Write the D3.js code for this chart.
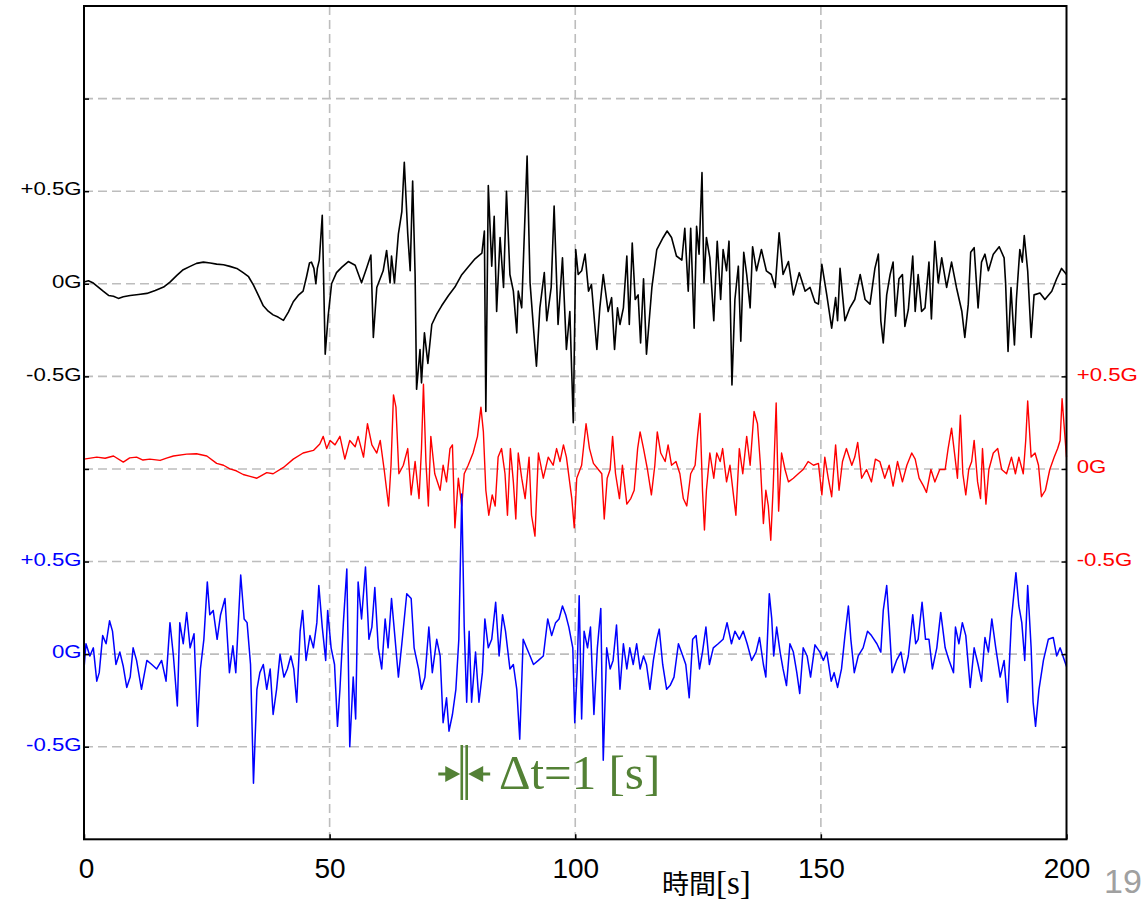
<!DOCTYPE html>
<html>
<head>
<meta charset="utf-8">
<script src="https://cdn.jsdelivr.net/npm/d3@7"></script>
<style>
  body { margin: 0; background: #fff; }
  svg { display: block; }
</style>
</head>
<body>
<div id="chart"></div>
<script>
// time [s], acceleration [G]
const blackWave = [[0,0.009],[0.9,0.016],[1.9,0.004],[2.9,-0.018],[3.9,-0.04],[5,-0.063],[6,-0.067],[7,-0.079],[8,-0.07],[9.4,-0.063],[11.1,-0.058],[12.8,-0.052],[14.5,-0.036],[16.2,-0.018],[17.5,0.009],[18.9,0.045],[20.2,0.076],[21.6,0.094],[22.9,0.11],[24.3,0.117],[25.7,0.112],[27,0.106],[28.4,0.103],[29.7,0.094],[31.1,0.083],[32.4,0.06],[33.5,0.038],[34.5,-0.007],[35.5,-0.063],[36.5,-0.119],[37.5,-0.148],[38.5,-0.168],[39.5,-0.18],[40.6,-0.198],[41.6,-0.153],[42.6,-0.097],[43.6,-0.063],[44.6,-0.04],[45.3,0.038],[45.9,0.112],[46.3,0.117],[46.8,0.083],[47.2,0],[47.5,0.083],[47.9,0.128],[48.5,0.37],[49.1,-0.38],[49.7,-0.175],[50.4,0],[51.4,0.06],[52.5,0.09],[53.8,0.12],[55.2,0.1],[56.5,0.005],[57.5,0.083],[58.4,0.155],[58.9,-0.29],[59.6,-0.02],[60.9,0.07],[61.6,0.18],[62.3,0.005],[62.6,0.15],[63.2,0.005],[64,0.27],[64.7,0.39],[65.2,0.656],[65.9,0.27],[66.4,0.07],[66.9,0.555],[67.4,0.05],[67.7,-0.57],[68.4,-0.355],[68.7,-0.535],[69.3,-0.265],[70,-0.43],[70.8,-0.22],[71.8,-0.164],[72.8,-0.119],[74.2,-0.063],[75.5,-0.018],[76.9,0.049],[78.2,0.09],[79.6,0.135],[81,0.166],[81.5,0.285],[81.8,-0.69],[82.3,0.53],[83,0.095],[83.5,0.365],[84,-0.15],[84.7,0.25],[85.4,-0.02],[86,0.5],[86.7,0.05],[87.4,-0.04],[88.1,-0.265],[88.4,-0.04],[89.1,-0.13],[89.8,0.39],[90.2,0.69],[90.8,0.005],[91.5,-0.24],[92.1,-0.445],[92.8,-0.13],[93.7,0.06],[94.2,-0.2],[95.1,-0.02],[95.7,0.42],[96.5,-0.22],[97.4,0.14],[98.2,-0.355],[98.9,-0.15],[99.6,-0.75],[100.1,0.185],[100.6,0.05],[101.3,0.07],[102,0.16],[102.7,-0.04],[103.3,-0.005],[104.4,-0.355],[105,-0.13],[105.7,0.05],[106.7,-0.15],[107.4,-0.075],[108,-0.355],[108.6,-0.13],[109.1,-0.22],[109.8,-0.13],[110.5,0.15],[111,-0.22],[111.6,0.22],[112.2,-0.085],[112.8,-0.06],[113.3,-0.32],[113.9,0.027],[114.5,-0.38],[115.6,-0.02],[116.6,0.185],[117.9,0.25],[118.7,0.285],[119.6,0.25],[120.6,0.15],[121.7,0.128],[122.3,0.3],[123,-0.04],[123.5,0.3],[124.2,-0.24],[124.7,0.31],[125.2,0.16],[125.8,0.6],[126.2,0.005],[126.7,0.25],[127.4,0.14],[128.2,-0.2],[128.9,0.23],[129.6,-0.085],[130.1,0.185],[130.8,0.07],[131.3,0.23],[131.9,-0.546],[132.5,-0.085],[133.2,0.095],[133.7,-0.31],[134.3,0.17],[134.9,0.05],[135.6,-0.13],[136.1,0.2],[136.9,0.07],[137.9,0.185],[138.9,0.07],[139.9,0.05],[140.7,-0.02],[141.5,0.275],[142.3,0.05],[143.4,0.12],[144.4,-0.06],[145.6,0.06],[146.8,-0.04],[147.8,-0.02],[148.8,-0.1],[149.5,-0.11],[150.2,0.105],[151.2,-0.06],[152.2,-0.24],[153,-0.075],[153.4,-0.2],[153.9,0.083],[154.9,-0.2],[155.9,-0.13],[156.9,-0.085],[158,0.05],[159,-0.085],[160,-0.11],[161,0.083],[161.7,0.16],[162.2,-0.2],[162.7,-0.32],[163.4,-0.06],[164.1,0.05],[164.7,0.117],[165.2,-0.175],[165.9,0.027],[166.6,0.05],[167.1,-0.23],[167.8,-0.14],[168.7,0.15],[169.2,-0.15],[169.8,0.05],[170.5,-0.15],[171.2,-0.13],[172,0.117],[172.5,-0.19],[173.2,0.23],[173.9,0.005],[174.6,0.14],[175.6,-0.02],[176.6,0.117],[177.6,-0.02],[178.7,-0.15],[179.3,-0.29],[180,-0.11],[180.5,0.17],[181.2,0.195],[182,-0.13],[182.7,0.117],[183.4,0.16],[184.1,0.07],[185.1,0.16],[186.3,0.2],[187.3,0.14],[187.6,0.005],[188.1,-0.366],[188.7,-0.02],[189.4,-0.33],[189.8,-0.085],[190.5,0.185],[191,0.117],[191.4,0.26],[192.1,0.07],[192.8,-0.29],[193.4,-0.06],[194.6,-0.05],[195.6,-0.085],[197,-0.04],[198,0.027],[199,0.083],[200,0.05]];

const redWave = [[0,0.053],[2.6,0.064],[4.3,0.058],[6,0.07],[8,0.037],[9.3,0.06],[10.7,0.064],[12,0.048],[13.4,0.053],[15.5,0.046],[16.8,0.058],[18.2,0.07],[20.9,0.08],[22.9,0.082],[25,0.07],[27,0.03],[28.4,0.02],[29.7,0],[31,-0.01],[32.4,-0.03],[33.8,-0.04],[35.2,-0.05],[37.2,-0.02],[38.5,-0.026],[40.6,0.008],[42.6,0.053],[44.6,0.086],[46.7,0.1],[48,0.135],[48.7,0.176],[49.4,0.11],[50.1,0.154],[51.1,0.13],[52.1,0.176],[53.1,0.053],[54.1,0.154],[55.2,0.12],[55.8,0.176],[56.9,0.064],[57.7,0.244],[58.6,0.13],[59.6,0.086],[60.3,0.154],[61.1,-0.003],[62,-0.2],[62.5,0.02],[63,0.4],[63.5,0.334],[64.1,-0.026],[65,0.02],[65.9,0.11],[66.6,-0.14],[67.4,0.04],[68.2,-0.16],[68.7,0.11],[69.1,0.457],[69.6,0.04],[70.1,-0.2],[70.6,0.176],[71.4,-0.026],[72.5,-0.115],[73.1,0.02],[73.8,-0.07],[74.5,0.11],[75,0.13],[75.5,-0.318],[76.2,-0.05],[76.9,-0.2],[77.4,-0.026],[78.2,0.02],[79.2,0.086],[80.1,0.176],[80.8,0.334],[81.3,0.2],[81.8,-0.115],[82.4,-0.25],[83.1,-0.14],[83.7,-0.2],[84.3,0.064],[85,0.11],[85.7,-0.026],[86.2,-0.25],[86.8,0.11],[87.4,-0.07],[87.9,-0.27],[88.4,0.086],[89.1,-0.05],[89.8,-0.16],[90.6,0.064],[91.1,-0.25],[91.8,-0.363],[92.5,0.086],[93.5,-0.05],[94.5,0.064],[95.5,0.02],[96.2,0.11],[96.9,0.04],[97.6,0.13],[98.2,0.064],[99.3,-0.16],[99.8,-0.318],[100.3,-0.05],[101.3,0.02],[102.2,0.244],[102.9,0.11],[103.7,0.03],[104.7,-0.003],[105.4,-0.026],[105.9,-0.27],[106.5,-0.05],[107.1,-0.003],[107.6,0.176],[108.2,-0.026],[109,-0.16],[109.6,0.02],[110.5,-0.19],[111.3,-0.16],[112,-0.115],[112.7,0.11],[113.2,0.2],[113.9,0.11],[114.7,-0.003],[115.5,-0.14],[116.2,0.02],[116.7,0.2],[117.4,0.086],[118.3,0.04],[118.9,0.13],[119.6,0.02],[120.5,0.04],[121.3,-0.026],[122,-0.16],[122.7,-0.2],[123.5,-0.026],[124.4,0.02],[124.9,0.176],[125.4,0.3],[125.9,-0.115],[126.3,-0.33],[126.7,-0.115],[127.4,0.086],[128.2,-0.05],[128.8,0.086],[129.5,0.04],[130,0.11],[130.8,-0.07],[131.5,0.02],[132.2,-0.14],[132.7,-0.25],[133.4,0.11],[134.1,-0.026],[134.9,0.176],[135.6,0.02],[136.4,0.31],[137.1,0.244],[137.7,0.02],[138.3,-0.295],[138.8,-0.115],[139.3,-0.2],[139.8,-0.385],[140.3,-0.093],[140.9,0.356],[141.4,-0.228],[142,0.086],[142.7,-0.003],[143.4,-0.07],[144.4,-0.05],[145.4,-0.026],[146.4,-0.003],[147.4,0.04],[148.5,0.02],[149.5,0.03],[150.2,-0.14],[150.8,0.064],[151.5,-0.05],[152.2,-0.15],[153,0.13],[153.7,-0.115],[154.4,0.04],[155.2,0.11],[156.3,0.02],[156.9,0.064],[157.5,0.143],[158.3,-0.05],[159.3,-0.003],[160.3,-0.07],[161.1,0.053],[162,0.04],[163,-0.05],[163.9,0.02],[164.7,-0.093],[165.6,0.04],[166.6,-0.07],[167.5,0.02],[168.5,0.086],[169.2,0.053],[170,-0.05],[170.9,-0.093],[171.5,-0.127],[172.4,-0.003],[173.2,-0.07],[174.2,-0.003],[175.3,-0.003],[175.9,0.11],[176.6,0.22],[177.3,0.064],[177.8,-0.05],[178.4,0.29],[178.9,-0.026],[179.5,-0.14],[180.1,-0.003],[180.7,0.04],[181.2,0.154],[181.9,-0.07],[182.5,-0.16],[182.9,0.11],[183.6,-0.19],[184.2,-0.003],[185.1,0.086],[186,0.11],[186.8,-0.003],[187.8,-0.026],[188.8,0.064],[189.6,-0.026],[190.3,0.064],[191.2,-0.026],[191.7,0.154],[192.1,0.367],[192.8,0.064],[193.6,0.086],[194.3,0.02],[194.9,-0.15],[195.7,-0.115],[196.6,-0.003],[197.5,0.064],[198.2,0.11],[198.7,0.154],[199.1,0.38],[200,0.064]];

const blueWave = [[0,-0.08],[0.4,0.056],[1.2,-0.01],[1.9,0.034],[2.6,-0.146],[3.1,-0.1],[3.8,0.1],[4.5,0.056],[5.2,0.18],[5.8,0.124],[6.5,-0.056],[7.3,0.011],[8,-0.067],[8.7,-0.18],[9.4,-0.124],[10,0.034],[10.7,-0.034],[11.7,-0.19],[12.8,-0.034],[13.8,-0.056],[14.8,-0.08],[15.8,-0.034],[16.7,-0.146],[17.5,0.17],[18.2,-0.01],[19,-0.28],[19.5,0.17],[20.2,0.056],[20.9,0.225],[21.6,0.034],[22.4,0.11],[23.1,-0.39],[23.7,-0.08],[24.4,0.08],[25.1,0.39],[25.6,0.213],[26.3,0.236],[27.1,0.08],[27.8,0.213],[28.7,0.3],[29.6,-0.1],[30.3,0.045],[30.9,-0.1],[31.9,0.427],[32.6,0.19],[33.2,0.17],[33.9,-0.056],[34.5,-0.697],[35.2,-0.19],[35.8,-0.1],[36.5,-0.056],[37.2,-0.19],[37.9,-0.08],[38.5,-0.326],[39.2,-0.19],[39.9,0],[40.7,-0.124],[41.4,-0.08],[42.1,-0.01],[42.7,-0.08],[43.3,-0.26],[44,0.124],[44.5,0.236],[45.2,-0.034],[46,0.1],[46.7,0.034],[47.4,0.17],[47.8,0.37],[48.5,0.146],[49.2,-0.034],[49.6,0.236],[50.3,0.034],[51,-0.056],[51.6,-0.39],[52.1,-0.19],[52.8,0.17],[53.5,0.46],[54.1,-0.5],[54.8,-0.124],[55.3,-0.35],[55.8,0.39],[56.5,0.19],[57.3,0.47],[58,0.08],[58.6,0.146],[59.2,0.36],[59.9,0.034],[60.6,-0.08],[61.3,0.19],[61.9,0.034],[62.6,0.3],[63.3,0.09],[64,-0.124],[64.7,0.056],[65.7,0.326],[66.6,0.3],[67.2,0.034],[68.1,-0.08],[68.7,-0.19],[69.4,-0.124],[70.2,0.146],[70.9,-0.1],[71.8,0.08],[72.5,-0.01],[73.1,-0.37],[73.8,-0.236],[74.3,-0.416],[75,-0.326],[75.7,-0.19],[76.3,0.08],[76.9,0.865],[77.4,0.146],[77.9,-0.26],[78.4,0.124],[78.9,-0.26],[79.7,0.011],[80.4,-0.26],[81.1,-0.1],[81.6,0.19],[82.3,0.034],[83,0.08],[83.8,0.28],[84.5,-0.01],[85.2,0.213],[85.8,0.124],[86.7,-0.08],[87.4,-0.056],[88.1,-0.19],[88.7,-0.46],[89.4,0.08],[90.1,0.034],[90.8,-0.01],[91.5,-0.056],[92.5,-0.034],[93.5,-0.01],[94.4,0.19],[95.2,0.1],[96,0.17],[96.7,0.19],[97.4,0.26],[98.05,0.213],[98.7,0.146],[99.5,0.034],[99.9,-0.37],[100.4,-0.08],[100.8,0.315],[101.3,-0.35],[101.8,0.124],[102.5,0.034],[103.1,0.146],[103.8,-0.326],[104.5,0.034],[105.2,0.247],[105.7,-0.573],[106.4,0.034],[107.1,-0.08],[107.7,-0.034],[108.4,0.157],[109.1,-0.19],[109.8,0.056],[110.5,-0.08],[111.1,0.034],[111.8,-0.056],[112.5,0.056],[113.2,-0.08],[113.9,-0.01],[114.5,-0.056],[115.2,-0.19],[115.9,-0.034],[116.6,0.08],[117.1,0.135],[117.8,-0.056],[118.6,-0.19],[119.3,-0.17],[120.1,-0.124],[121,0.056],[121.9,-0.01],[122.5,-0.056],[123.2,-0.236],[123.9,0.08],[124.6,0.1],[125.3,-0.08],[125.9,0.011],[126.6,0.146],[127.3,-0.056],[128.1,0.034],[129.1,0.056],[130.1,0.08],[130.9,0.17],[131.8,0.056],[132.5,0.124],[133.4,0.08],[134.2,0.124],[135,0.056],[135.9,-0.034],[136.8,0.011],[137.5,0.09],[138.3,-0.056],[138.8,-0.124],[139.5,0.326],[140,0.19],[140.4,-0.01],[141,0.146],[141.7,0.011],[142.3,-0.08],[143,-0.17],[143.7,0.056],[144.4,0.011],[145.1,-0.1],[145.7,-0.213],[146.4,0.034],[147.2,-0.01],[147.9,-0.124],[148.8,0.05],[149.8,0.011],[150.5,-0.034],[151.2,0.011],[152.1,-0.146],[152.7,-0.1],[153.4,-0.18],[154.2,-0.08],[154.9,0.1],[155.6,0.26],[156.1,0.08],[156.8,-0.1],[157.6,-0.01],[158.6,0.034],[159.5,0.124],[160.3,0.1],[161.4,0.056],[162.2,0.011],[162.7,0.236],[163.4,0.37],[163.9,0.17],[164.5,-0.1],[165.4,-0.034],[166.3,0.011],[167,-0.1],[167.8,-0.01],[168.7,0.213],[169.3,0.056],[169.8,0.08],[170.6,0.28],[171.3,0.08],[172,0.08],[172.7,-0.08],[173.6,0.034],[174.4,0.225],[175.3,0.034],[176.1,-0.034],[177,-0.1],[177.4,0.146],[178.1,0.056],[178.8,0.17],[179.5,0.1],[180.4,-0.18],[181.2,0.034],[182,-0.056],[182.7,-0.146],[183.4,0.09],[184.1,0.011],[184.8,0.19],[185.6,0.034],[186.5,-0.124],[187.3,-0.034],[188,-0.26],[188.8,0.19],[189.7,0.44],[190.3,0.26],[190.9,0.17],[191.5,-0.034],[192.1,0.37],[192.8,0.034],[193.2,-0.26],[193.7,-0.39],[194.4,-0.19],[195.3,-0.034],[196.3,0.08],[197.3,0.09],[198,-0.01],[198.7,0.034],[200,-0.067]];

// each trace is drawn on its own zero line (stacked G units)
const traces = [
  { data: blackWave, base: 3, color: '#000000', width: 1.6 },
  { data: redWave,   base: 2, color: '#ff0000', width: 1.4 },
  { data: blueWave,  base: 1, color: '#0000ff', width: 1.5 }
];

const xTicks = [0, 50, 100, 150, 200];
const yGrid = [0.5, 1, 1.5, 2, 2.5, 3, 3.5, 4];
const leftLabels = [
  { v: 3.5, text: '+0.5G', color: '#000' },
  { v: 3,   text: '0G',    color: '#000' },
  { v: 2.5, text: '-0.5G', color: '#000' },
  { v: 1.5, text: '+0.5G', color: '#0000ff' },
  { v: 1,   text: '0G',    color: '#0000ff' },
  { v: 0.5, text: '-0.5G', color: '#0000ff' }
];
const rightLabels = [
  { v: 2.5, text: '+0.5G', color: '#ff0000' },
  { v: 2,   text: '0G',    color: '#ff0000' },
  { v: 1.5, text: '-0.5G', color: '#ff0000' }
];
const dtMarks = [76.9, 77.9];

const W = 1147, H = 902;
const plotLeft = 84, plotRight = 1066.5, plotTop = 6, plotBottom = 839.3;
const green = '#538135';

const x = d3.scaleLinear().domain([0, 200]).range([plotLeft, plotRight]);
const y = d3.scaleLinear().domain([0, 4.5]).range([plotBottom, plotTop]);

const svg = d3.select('#chart').append('svg')
  .attr('width', W)
  .attr('height', H);

// grid
svg.append('g')
  .selectAll('line')
  .data(yGrid)
  .join('line')
    .attr('x1', plotLeft).attr('x2', plotRight)
    .attr('y1', y).attr('y2', y)
    .attr('stroke', '#bdbdbd')
    .attr('stroke-width', 1.6)
    .attr('stroke-dasharray', '9,5');

svg.append('g')
  .selectAll('line')
  .data(xTicks.slice(1, -1))
  .join('line')
    .attr('x1', x).attr('x2', x)
    .attr('y1', plotTop).attr('y2', plotBottom)
    .attr('stroke', '#bdbdbd')
    .attr('stroke-width', 1.6)
    .attr('stroke-dasharray', '9,5');

// traces
const plot = svg.append('g');
traces.forEach(tr => {
  const line = d3.line()
    .x(d => x(d[0]))
    .y(d => y(tr.base + d[1]));
  plot.append('path')
    .datum(tr.data)
    .attr('d', line)
    .attr('fill', 'none')
    .attr('stroke', tr.color)
    .attr('stroke-width', tr.width)
    .attr('stroke-linejoin', 'round');
});

// axes (inward ticks)
const leftAxis = svg.append('g')
  .attr('transform', `translate(${plotLeft},0)`)
  .call(d3.axisLeft(y).tickValues(yGrid).tickSizeInner(-5).tickSizeOuter(0).tickPadding(2)
    .tickFormat(v => { const l = leftLabels.find(d => d.v === v); return l ? l.text : ''; }));

const rightAxis = svg.append('g')
  .attr('transform', `translate(${plotRight},0)`)
  .call(d3.axisRight(y).tickValues(yGrid).tickSizeInner(-5).tickSizeOuter(0).tickPadding(8.5)
    .tickFormat(v => { const l = rightLabels.find(d => d.v === v); return l ? l.text : ''; }));

const bottomAxis = svg.append('g')
  .attr('transform', `translate(0,${plotBottom})`)
  .call(d3.axisBottom(x).tickValues(xTicks).tickSizeInner(-5).tickSizeOuter(0).tickPadding(19));

[leftAxis, rightAxis, bottomAxis].forEach(g => {
  g.select('.domain').remove();
  g.selectAll('.tick line').attr('stroke', '#000').attr('stroke-width', 1.5);
});

leftAxis.selectAll('.tick text')
  .attr('font-family', 'Liberation Sans, Arial, sans-serif')
  .attr('font-size', 18.5)
  .attr('dy', '0.2em')
  .attr('transform', 'scale(1.2,1)')
  .attr('fill', v => { const l = leftLabels.find(d => d.v === v); return l ? l.color : '#000'; });

rightAxis.selectAll('.tick text')
  .attr('font-family', 'Liberation Sans, Arial, sans-serif')
  .attr('font-size', 18.5)
  .attr('dy', '0.2em')
  .attr('transform', 'scale(1.2,1)')
  .attr('fill', v => { const l = rightLabels.find(d => d.v === v); return l ? l.color : '#000'; });

bottomAxis.selectAll('.tick text')
  .attr('font-family', 'Liberation Sans, Arial, sans-serif')
  .attr('font-size', 28)
  .attr('fill', '#000');
bottomAxis.selectAll('.tick text').filter(v => v === 0).attr('dx', 2);

// frame
svg.append('rect')
  .attr('x', plotLeft).attr('y', plotTop)
  .attr('width', plotRight - plotLeft).attr('height', plotBottom - plotTop)
  .attr('fill', 'none')
  .attr('stroke', '#000')
  .attr('stroke-width', 2);

// x axis title
const xt = svg.append('text')
  .attr('x', 662).attr('y', 894)
  .attr('fill', '#000');
xt.append('tspan')
  .attr('font-family', 'Noto Sans CJK JP, sans-serif')
  .attr('font-size', 27)
  .text('時間');
xt.append('tspan')
  .attr('font-family', 'Liberation Serif, serif')
  .attr('font-size', 33)
  .text('[s]');

// Δt annotation
const ann = svg.append('g');
const yMid = 774;
ann.selectAll('line.bar')
  .data(dtMarks)
  .join('line')
    .attr('class', 'bar')
    .attr('x1', x).attr('x2', x)
    .attr('y1', 745).attr('y2', 800)
    .attr('stroke', green)
    .attr('stroke-width', 2.6);

const x0 = x(dtMarks[0]) - 1.5, x1 = x(dtMarks[1]) + 1.5;
ann.append('line')
  .attr('x1', x0 - 22).attr('x2', x0 - 8)
  .attr('y1', yMid).attr('y2', yMid)
  .attr('stroke', green).attr('stroke-width', 3);
ann.append('path')
  .attr('d', `M${x0},${yMid} L${x0 - 15},${yMid - 8} L${x0 - 15},${yMid + 8} Z`)
  .attr('fill', green);
ann.append('line')
  .attr('x1', x1 + 8).attr('x2', x1 + 22)
  .attr('y1', yMid).attr('y2', yMid)
  .attr('stroke', green).attr('stroke-width', 3);
ann.append('path')
  .attr('d', `M${x1},${yMid} L${x1 + 15},${yMid - 8} L${x1 + 15},${yMid + 8} Z`)
  .attr('fill', green);

ann.append('text')
  .attr('x', 499).attr('y', 789)
  .attr('font-family', 'Liberation Serif, serif')
  .attr('font-size', 49)
  .attr('fill', green)
  .text('Δt=1 [s]');

// slide page number, bottom-right corner
svg.append('text')
  .attr('x', 1104).attr('y', 893)
  .attr('font-family', 'Liberation Sans, Arial, sans-serif')
  .attr('font-size', 34)
  .attr('fill', '#a0a0a0')
  .text('19');
</script>
</body>
</html>
